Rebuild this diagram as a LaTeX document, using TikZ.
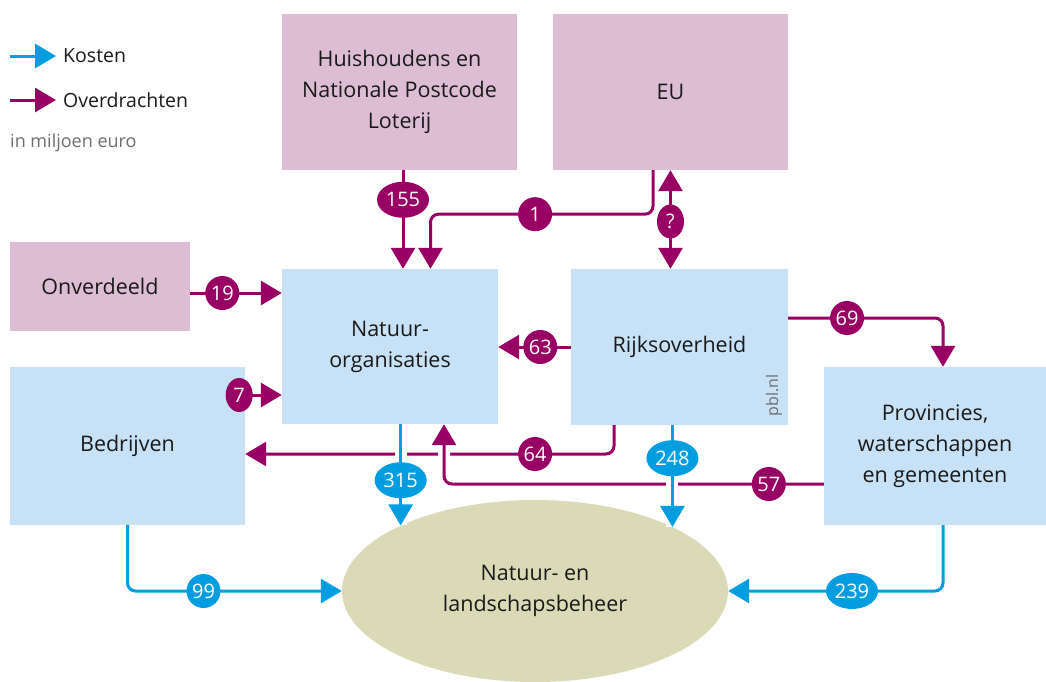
\documentclass[tikz,border=0pt]{standalone}
\usepackage{fontspec}
\setmainfont{Open Sans}
\usetikzlibrary{arrows.meta,shapes.geometric}
\definecolor{pinkbox}{RGB}{221,189,211}
\definecolor{bluebox}{RGB}{199,226,247}
\definecolor{ellcol}{RGB}{218,219,182}
\definecolor{magenta}{RGB}{153,0,100}
\definecolor{cyanline}{RGB}{0,158,224}
\definecolor{txt}{RGB}{26,26,26}
\definecolor{graytxt}{RGB}{110,110,110}
\tikzset{
  boxbase/.style={rectangle, inner sep=0pt, align=center, text=txt,
    font=\fontsize{21.5}{31}\selectfont},
  pinkbox/.style={boxbase, fill=pinkbox},
  bluebox/.style={boxbase, fill=bluebox},
  ov/.style={draw=magenta, line width=3pt, -{Triangle[length=21pt,width=24pt]}},
  ko/.style={draw=cyanline, line width=3pt, -{Triangle[length=21pt,width=24pt]}},
  gapped/.style={preaction={draw=white, line width=12pt, -}},
  bub/.style={ellipse, inner sep=0pt, minimum width=34pt, minimum height=34pt,
    text=white, font=\fontsize{20}{20}\selectfont},
  bubm/.style={bub, fill=magenta},
  bubc/.style={bub, fill=cyanline},
  wide/.style={minimum width=52pt, minimum height=36pt},
  narrow/.style={minimum width=27pt},
}
\begin{document}
\begin{tikzpicture}[x=1pt,y=-1pt]
\useasboundingbox (0,0) rectangle (1046,681);
% legend
\coordinate (lk0) at (10,56);
\coordinate (lk1) at (56,56);
\coordinate (lo0) at (10,100);
\coordinate (lo1) at (56,100);
\draw[ko] (lk0) -- (lk1);
\draw[ov] (lo0) -- (lo1);
\node[anchor=west, text=txt, inner sep=0pt, font=\fontsize{19.5}{24}\selectfont] (lkt) at (63,56) {Kosten};
\node[anchor=west, text=txt, inner sep=0pt, font=\fontsize{19.5}{24}\selectfont] (lot) at (63,100) {Overdrachten};
\node[anchor=west, text=graytxt, inner sep=0pt, font=\fontsize{18}{24}\selectfont] (unit) at (10,143) {in miljoen euro};
% boxes
\node[pinkbox, minimum width=235pt, minimum height=156pt] (hh) at (399.5,92) {Huishoudens en\\Nationale Postcode\\Loterij};
\node[pinkbox, minimum width=235pt, minimum height=156pt] (eu) at (670.5,92) {EU};
\node[pinkbox, minimum width=180pt, minimum height=89pt] (onv) at (100,286.5) {Onverdeeld};
\node[bluebox, minimum width=216pt, minimum height=155pt] (nat) at (390,346.5) {Natuur-\\organisaties};
\node[bluebox, minimum width=217pt, minimum height=156pt] (rijk) at (679.5,347) {Rijksoverheid};
\node[bluebox, minimum width=235pt, minimum height=158pt] (bed) at (127.5,446) {Bedrijven};
\node[bluebox, minimum width=222pt, minimum height=158pt] (prov) at (935,446) {Provincies,\\waterschappen\\en gemeenten};
\node[ellipse, fill=ellcol, inner sep=0pt, minimum width=386pt, minimum height=182pt, align=center, text=txt,
  font=\fontsize{21.5}{31}\selectfont] (ell) at (535,591) {Natuur- en\\landschapsbeheer};
\node[rotate=90, anchor=base west, text=graytxt, inner sep=0pt, font=\fontsize{16}{16}\selectfont] (pbl) at ([xshift=-10pt,yshift=9pt]rijk.south east) {pbl.nl};
% transfers
\draw[ov] ([xshift=3.5pt]hh.south) -- node[bubm, wide, pos=0.3] {155} ([xshift=3.5pt]hh.south |- nat.north);
\draw[ov, rounded corners=8pt] ([xshift=-17.5pt]eu.south) -- ++(0,44) -| node[bubm, pos=0.265] {1} ([xshift=40.5pt]nat.north);
\draw[ov, {Triangle[length=21pt,width=24pt]}-{Triangle[length=21pt,width=24pt]}] (eu.south) -- node[bubm, narrow, pos=0.52] {?} (eu.south |- rijk.north);
\draw[ov] ([yshift=-6.5pt]onv.east) -- node[bubm, pos=0.35] {19} ([yshift=-6.5pt]onv.east -| nat.west);
\draw[ov] ([xshift=-6pt,yshift=51pt]bed.east) node[bubm, narrow] {7} -- ([yshift=51pt]bed.east -| nat.west);
\draw[ov] (rijk.west) -- node[bubm, pos=0.42] {63} (rijk.west -| nat.east);
\draw[ov, rounded corners=8pt] ([yshift=29pt]rijk.east) -| node[bubm, pos=0.19] {69} ([xshift=8pt]prov.north);
\draw[ov, rounded corners=8pt] ([xshift=-65.5pt]rijk.south) |- node[bubm, pos=0.607] {64} ([yshift=-8pt]bed.east);
\draw[ov, gapped, rounded corners=8pt] ([yshift=-38pt]prov.west) -| ([xshift=54pt]nat.south);
% costs
\draw[ko, gapped] (ell.154.3 |- nat.south) -- (ell.154.3);
\draw[ko, gapped] (ell.25.6 |- rijk.south) -- (ell.25.6);
\draw[ko, rounded corners=8pt] (bed.south) |- (ell.west);
\draw[ko, rounded corners=8pt] ([xshift=8pt]prov.south) |- (ell.east);
% cost labels
\node[bubc, wide] (l315) at ([yshift=-56pt]nat.south -| ell.154.3) {315};
\node[bubc, wide] (l248) at ([yshift=-33pt]rijk.south -| ell.25.6) {248};
\node[bubc] (l99) at ([xshift=76pt]bed.south |- ell.west) {99};
\node[bubc, wide] (l239) at ([xshift=-83pt]prov.south |- ell.east) {239};
\node[bubm] (l57) at ([xshift=-55pt,yshift=-38pt]prov.west) {57};
\end{tikzpicture}
\end{document}
